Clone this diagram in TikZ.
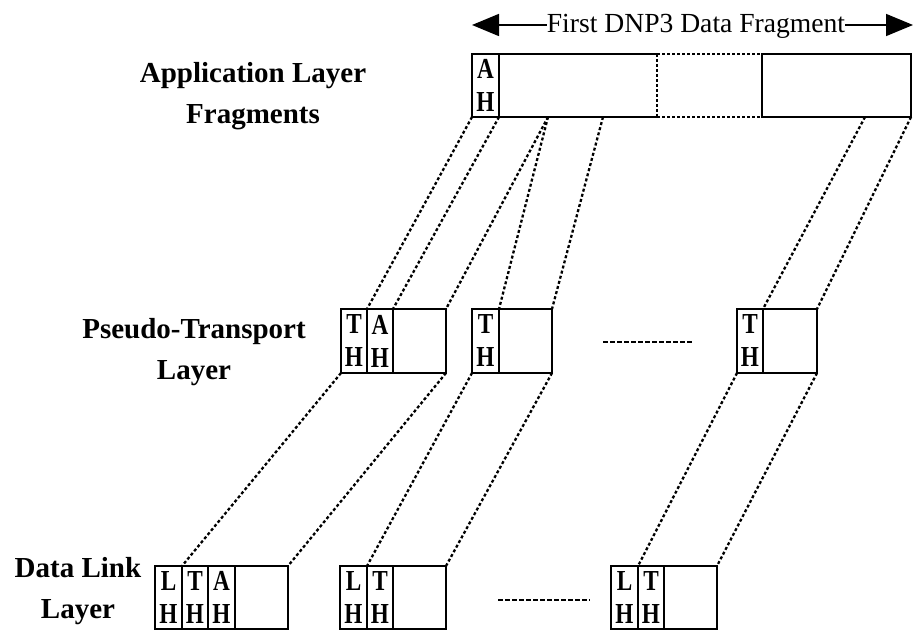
\documentclass[tikz,border=0pt]{standalone}
\usepackage{fontspec}
\setmainfont{Liberation Serif}
\newfontfamily\cellfam[FakeStretch=0.8]{Liberation Serif}
\usetikzlibrary{arrows.meta}
\begin{document}
\begin{tikzpicture}[x=1pt,y=-1pt,
  cell/.style={draw, line width=2pt, anchor=north west, inner sep=0pt, outer sep=0pt,
    align=center, font=\cellfam\bfseries\fontsize{29}{33}\selectfont},
  mid/.style={cell, minimum height=64pt},
  low/.style={cell, minimum height=63pt},
  conn/.style={line width=2.3pt, dash pattern=on 3pt off 2.3pt},
  dotline/.style={line width=2.6pt, dash pattern=on 4.5pt off 2.5pt},
  lbl/.style={align=center, inner sep=0pt, font=\bfseries\fontsize{29}{41}\selectfont},
  hdrarrow/.style={line width=1.6pt, -{Triangle[length=27pt,width=22pt]}}
]
\useasboundingbox (0,0) rectangle (913,631);

% header
\node[font=\fontsize{27.6}{30}\selectfont, inner sep=0pt, anchor=base] (hdr) at (696,33) {First DNP3 Data Fragment};
\coordinate (la) at (472,25);
\coordinate (ra) at (913,25);
\draw[hdrarrow] (hdr.west |- la) -- (la);
\draw[hdrarrow] (hdr.east |- ra) -- (ra);

% labels
\node[lbl] (lapp) at (253,96) {Application Layer\\Fragments};
\node[lbl] (lpt) at (194,352) {Pseudo-Transport\\Layer};
\node[lbl] (ldl) at (78,591) {Data Link\\Layer};

% top row
\node[low, minimum width=27pt] (ahtop) at (472,54) {A\\H};
\node[draw=none, anchor=north west, inner sep=0pt, outer sep=0pt, minimum width=105pt, minimum height=63pt] (segd) at (657,54) {};
\node[low, minimum width=149pt] (seg3) at (762,54) {};
\draw[line width=2pt] (ahtop.north east) -- (segd.north west);
\draw[line width=2pt] (ahtop.south east) -- (segd.south west);
\draw[line width=2pt, dash pattern=on 3pt off 2pt] (segd.north west) -- (segd.north east)
  (segd.south west) -- (segd.south east) (segd.north west) -- (segd.south west);
\coordinate (p1) at (548,117);
\coordinate (p2) at (603,117);
\coordinate (p3) at (865,117);

% middle row
\node[mid, minimum width=26pt] (m1th) at (341,309) {T\\H};
\node[mid, minimum width=26pt] (m1ah) at (367,309) {A\\H};
\node[mid, minimum width=53pt] (m1d) at (393,309) {};
\node[mid, minimum width=27pt] (m2th) at (472,309) {T\\H};
\node[mid, minimum width=53pt] (m2d) at (499,309) {};
\node[mid, minimum width=26pt] (m3th) at (737,309) {T\\H};
\node[mid, minimum width=54pt] (m3d) at (763,309) {};
\coordinate (md1) at (603,342);
\coordinate (md2) at (692,342);
\draw[dotline] (md1) -- (md2);

% bottom row
\node[low, minimum width=27pt] (b1lh) at (155,566) {L\\H};
\node[low, minimum width=26pt] (b1th) at (182,566) {T\\H};
\node[low, minimum width=27pt] (b1ah) at (208,566) {A\\H};
\node[low, minimum width=53pt] (b1d) at (235,566) {};
\node[low, minimum width=27pt] (b2lh) at (340,566) {L\\H};
\node[low, minimum width=26pt] (b2th) at (367,566) {T\\H};
\node[low, minimum width=53pt] (b2d) at (393,566) {};
\node[low, minimum width=27pt] (b3lh) at (611,566) {L\\H};
\node[low, minimum width=26pt] (b3th) at (638,566) {T\\H};
\node[low, minimum width=53pt] (b3d) at (664,566) {};
\coordinate (bd1) at (498,600);
\coordinate (bd2) at (590,600);
\draw[dotline] (bd1) -- (bd2);

% connectors top -> middle
\draw[conn] (ahtop.south west) -- (m1ah.north west);
\draw[conn] (ahtop.south east) -- (m1d.north west);
\draw[conn] (p1) -- (m1d.north east);
\draw[conn] (p1) -- (m2d.north west);
\draw[conn] (p2) -- (m2d.north east);
\draw[conn] (p3) -- (m3d.north west);
\draw[conn] (seg3.south east) -- (m3d.north east);

% connectors middle -> bottom
\draw[conn] (m1th.south west) -- (b1th.north west);
\draw[conn] (m1d.south east) -- (b1d.north east);
\draw[conn] (m2th.south west) -- (b2th.north west);
\draw[conn] (m2d.south east) -- (b2d.north east);
\draw[conn] (m3th.south west) -- (b3th.north west);
\draw[conn] (m3d.south east) -- (b3d.north east);
\end{tikzpicture}
\end{document}
